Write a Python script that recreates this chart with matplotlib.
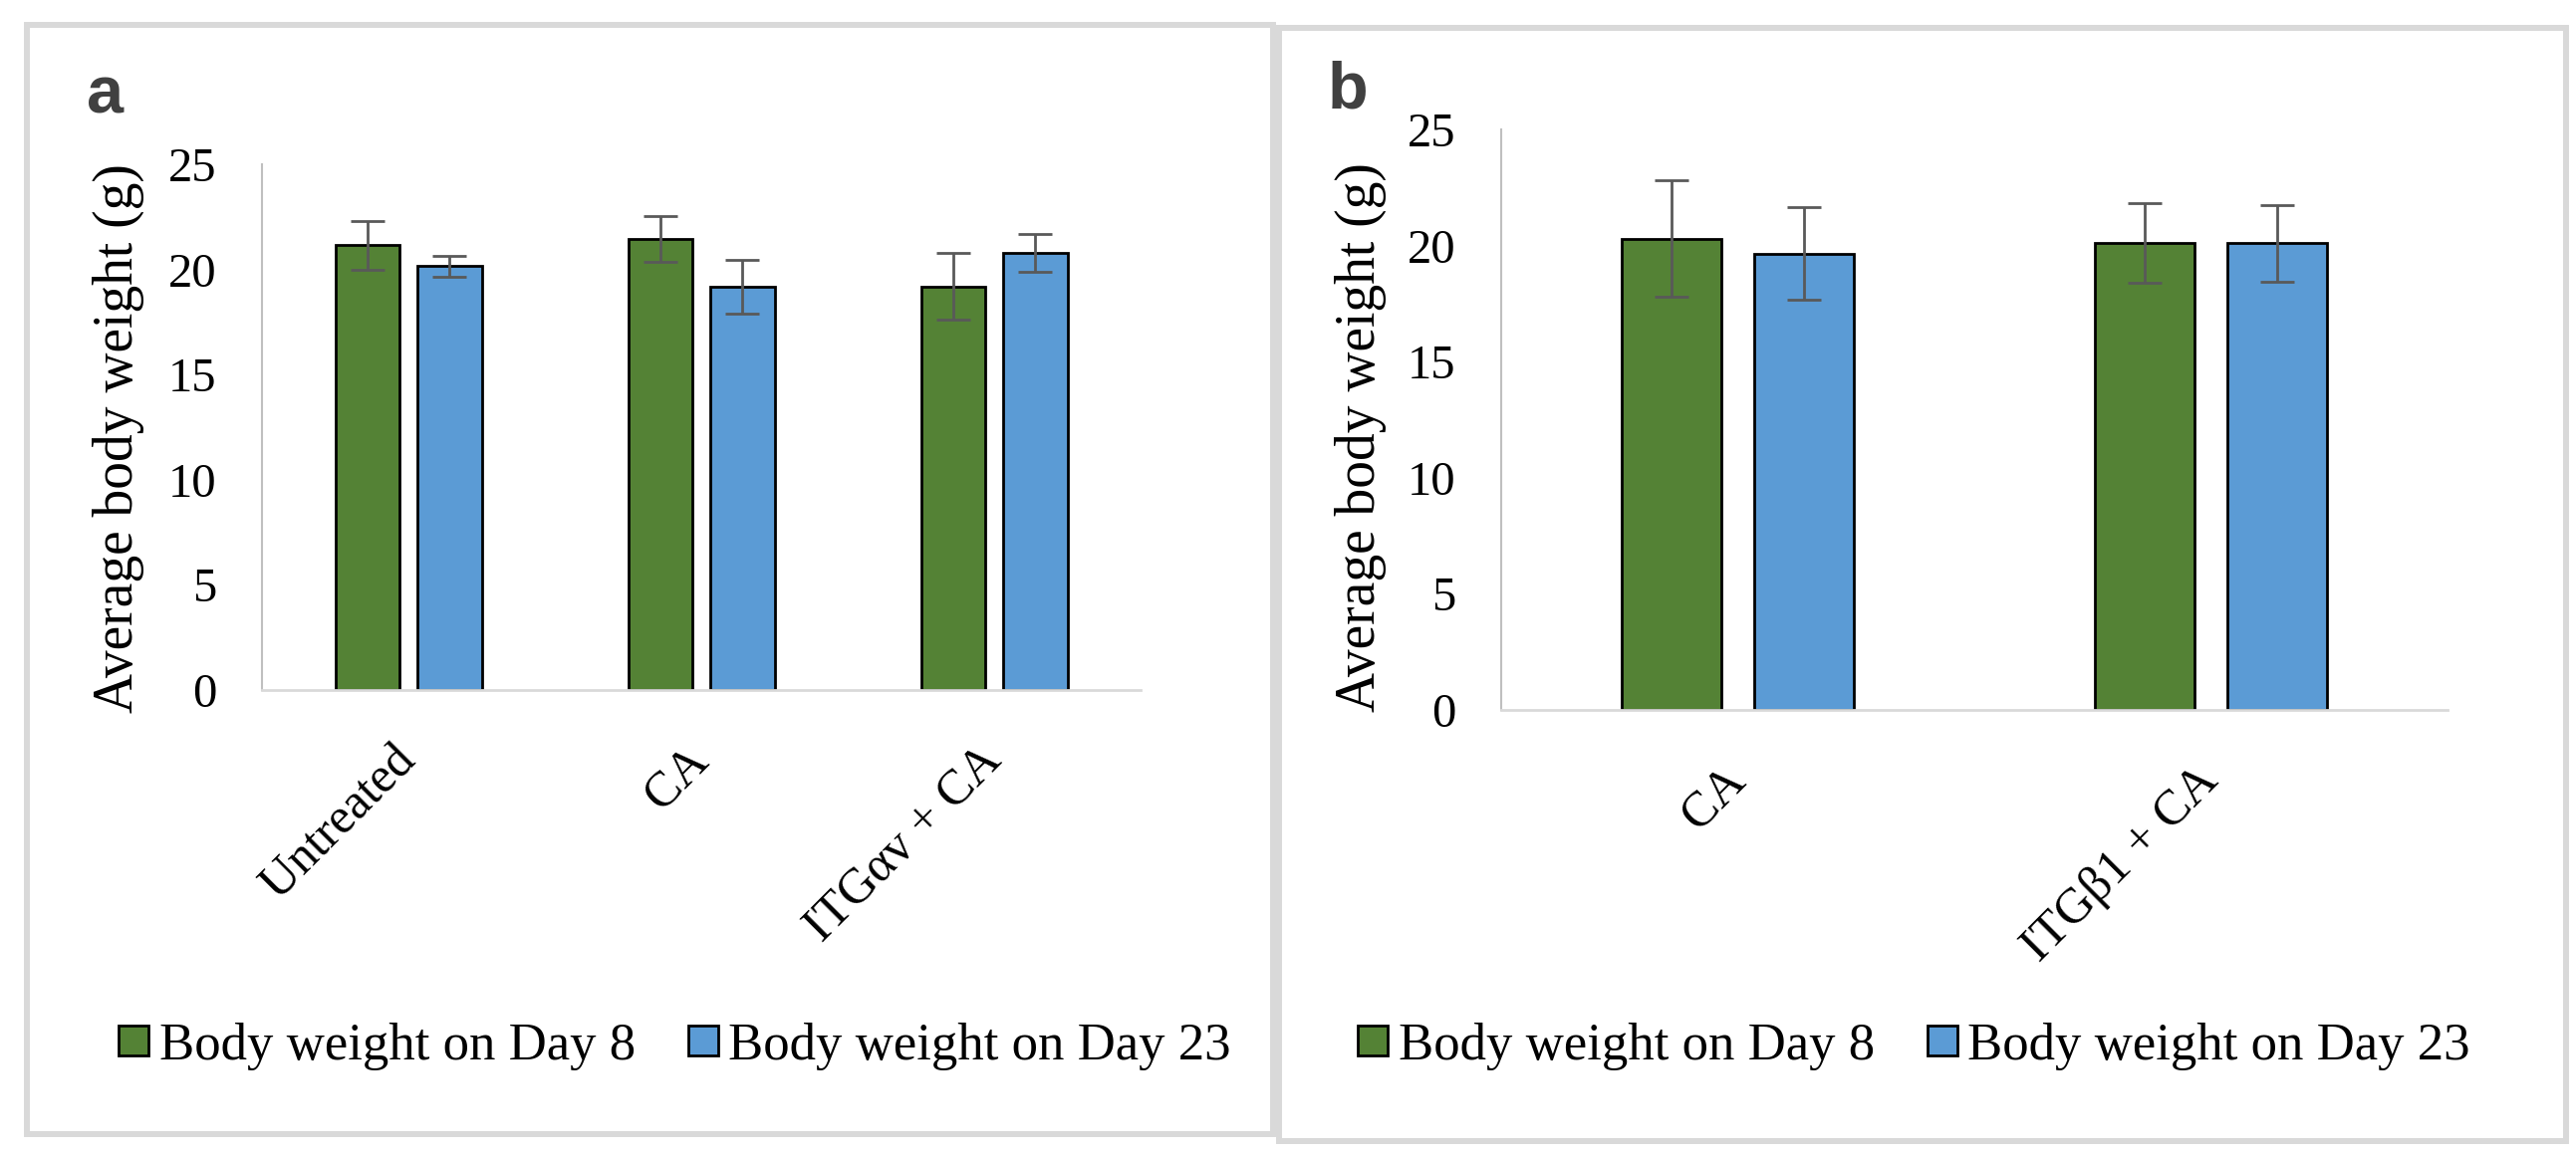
import matplotlib
matplotlib.use('Agg')
import matplotlib.pyplot as plt
from matplotlib.patches import Rectangle

plt.rcParams['font.family'] = ['Liberation Serif', 'DejaVu Serif']

# data
groups_a = ['Untreated', 'CA', 'ITGαv + CA']
day8_a = [21.15, 21.45, 19.2]
day8_a_err = [1.15, 1.1, 1.6]
day23_a = [20.15, 19.2, 20.8]
day23_a_err = [0.52, 1.28, 0.9]

groups_b = ['CA', 'ITGβ1 + CA']
day8_b = [20.3, 20.1]
day8_b_err = [2.5, 1.72]
day23_b = [19.65, 20.1]
day23_b_err = [2.0, 1.65]

series_names = ['Body weight on Day 8', 'Body weight on Day 23']
yticks = [0, 5, 10, 15, 20, 25]

GREEN = '#548235'
BLUE = '#5b9bd5'
ERR = '#595959'


def draw_panel(ax, groups, v8, e8, v23, e23, width, gap):
    n = len(groups)
    x = list(range(n))
    off = (width + gap) / 2
    b1 = ax.bar([i - off for i in x], v8, width, color=GREEN, edgecolor='black',
                linewidth=2, label=series_names[0], zorder=2)
    b2 = ax.bar([i + off for i in x], v23, width, color=BLUE, edgecolor='black',
                linewidth=2, label=series_names[1], zorder=2)
    ax.errorbar([i - off for i in x], v8, yerr=e8, fmt='none', ecolor=ERR,
                elinewidth=2, capsize=12, capthick=2, zorder=3)
    ax.errorbar([i + off for i in x], v23, yerr=e23, fmt='none', ecolor=ERR,
                elinewidth=2, capsize=12, capthick=2, zorder=3)
    ax.set_xlim(-0.5, n - 0.5)
    ax.set_ylim(0, 25)
    ax.set_yticks(yticks)
    ax.set_xticks(x)
    ax.set_xticklabels(groups, rotation=45, ha='right', va='center',
                       rotation_mode='anchor', fontsize=36)
    ax.tick_params(axis='y', length=0, pad=33, labelsize=35)
    ax.tick_params(axis='x', length=0, pad=46)
    for s in ['top', 'right']:
        ax.spines[s].set_visible(False)
    ax.spines['left'].set_color('#bfbfbf')
    ax.spines['left'].set_linewidth(1.5)
    ax.spines['bottom'].set_color('#d9d9d9')
    ax.spines['bottom'].set_linewidth(2)
    ax.set_ylabel('Average body weight (g)', fontsize=40)
    return b1, b2


def main():
    fig = plt.figure(figsize=(25.86, 11.64), dpi=100)

    # panel frames
    fig.patches.append(Rectangle((0.0104, 0.0215), 0.4838, 0.957, transform=fig.transFigure,
                                 fill=False, edgecolor='#d9d9d9', linewidth=4.3))
    fig.patches.append(Rectangle((0.4965, 0.0155), 0.4996, 0.9605, transform=fig.transFigure,
                                 fill=False, edgecolor='#d9d9d9', linewidth=4.3))

    ax1 = fig.add_axes([0.1017, 0.4046, 0.3411, 0.4536])
    ax2 = fig.add_axes([0.5828, 0.3875, 0.3674, 0.5009])

    h1 = draw_panel(ax1, groups_a, day8_a, day8_a_err, day23_a, day23_a_err, 0.22, 0.06)
    h2 = draw_panel(ax2, groups_b, day8_b, day8_b_err, day23_b, day23_b_err, 0.21, 0.07)
    ax1.yaxis.set_label_coords(-0.134, 0.48)
    ax2.yaxis.set_label_coords(-0.121, 0.47)

    for h, cx in [(h1, 0.262), (h2, 0.743)]:
        fig.legend(h, series_names, loc='center', bbox_to_anchor=(cx, 0.097), ncol=2,
                   frameon=False, fontsize=38, handlelength=0.57, handleheight=0.5,
                   handletextpad=0.2, columnspacing=1.0, borderaxespad=0)

    fig.text(0.041, 0.917, 'a', family='Liberation Sans', weight='bold', fontsize=48,
             color='#404040', ha='center', va='center')
    fig.text(0.5232, 0.921, 'b', family='Liberation Sans', weight='bold', fontsize=48,
             color='#404040', ha='center', va='center')

    fig.savefig('out.png', dpi=100)


if __name__ == '__main__':
    main()
